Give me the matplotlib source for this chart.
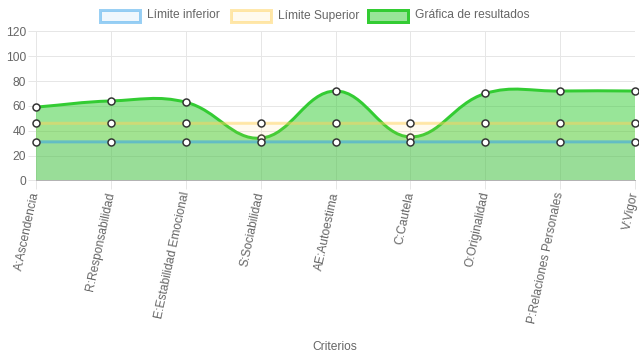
import numpy as np
import matplotlib
matplotlib.use('Agg')
import matplotlib.pyplot as plt
from matplotlib.path import Path
from matplotlib.patches import PathPatch, Rectangle

plt.rcParams['font.family'] = ['Liberation Sans', 'DejaVu Sans']

categories = ['A:Ascendencia', 'R:Responsabilidad', 'E:Estabilidad Emocional',
              'S:Sociabilidad', 'AE:Autoestima', 'C:Cautela', 'O:Originalidad',
              'P:Relaciones Personales', 'V:Vigor']
lower_limit = [31, 31, 31, 31, 31, 31, 31, 31, 31]
upper_limit = [46, 46, 46, 46, 46, 46, 46, 46, 46]
results = [59, 64, 63, 34, 72, 35, 70, 72, 72]
y_ticks = [0, 20, 40, 60, 80, 100, 120]
legend_labels = ['Límite inferior', 'Límite Superior', 'Gráfica de resultados']
x_title = 'Criterios'

W, H = 639, 360
fig = plt.figure(figsize=(W / 100, H / 100), dpi=100)
ax = fig.add_axes([36 / W, (H - 180.3) / H, (635 - 36) / W, (180.3 - 31.5) / H])
ax.set_xlim(0, len(categories) - 1)
ax.set_ylim(0, 120)

TXT = '#666666'
GRID = '#e6e6e6'
PX = 0.72  # points per pixel


def spline(vals, tension=0.4):
    xs = np.arange(len(vals))
    pts = ax.transData.transform(np.column_stack([xs, vals]).astype(float))
    n = len(pts)
    cpp, cpn = [], []
    for i in range(n):
        prev = pts[max(i - 1, 0)]
        cur = pts[i]
        nxt = pts[min(i + 1, n - 1)]
        d01 = np.hypot(*(cur - prev))
        d12 = np.hypot(*(nxt - cur))
        tot = d01 + d12
        s01 = d01 / tot if tot else 0
        s12 = d12 / tot if tot else 0
        cpp.append(cur - tension * s01 * (nxt - prev))
        cpn.append(cur + tension * s12 * (nxt - prev))
    verts = [pts[0]]
    codes = [Path.MOVETO]
    for i in range(n - 1):
        verts += [cpn[i], cpp[i + 1], pts[i + 1]]
        codes += [Path.CURVE4] * 3
    verts = ax.transData.inverted().transform(np.array(verts))
    return verts, codes


def draw_series(vals, line_rgb, fill_alpha, line_alpha, z):
    verts, codes = spline(vals)
    n = len(vals)
    fverts = list(verts) + [(n - 1, 0), (0, 0), (0, 0)]
    fcodes = list(codes) + [Path.LINETO, Path.LINETO, Path.CLOSEPOLY]
    ax.add_patch(PathPatch(Path(fverts, fcodes), facecolor=line_rgb + (fill_alpha,),
                           edgecolor='none', zorder=z))
    ax.add_patch(PathPatch(Path(verts, codes), facecolor='none',
                           edgecolor=line_rgb + (line_alpha,), linewidth=3 * PX,
                           zorder=z + 0.1, capstyle='round', joinstyle='round'))
    ax.plot(np.arange(n), vals, linestyle='none', marker='o', markersize=7 * PX,
            markerfacecolor='white', markeredgecolor='#333333',
            markeredgewidth=1.5 * PX, zorder=z + 0.2, clip_on=False)


GREEN = (51 / 255, 204 / 255, 51 / 255)
BLUE = (54 / 255, 162 / 255, 235 / 255)
YELLOW = (255 / 255, 210 / 255, 90 / 255)

draw_series(results, GREEN, 0.5, 1.0, 2)
draw_series(upper_limit, YELLOW, 0.1, 0.5, 3)
draw_series(lower_limit, BLUE, 0.08, 0.55, 4)

# axes styling
ax.set_yticks(y_ticks)
ax.set_xticks(np.arange(len(categories)))
ax.set_xticklabels(categories, rotation=78, ha='right', va='center',
                   rotation_mode='anchor')
ax.tick_params(axis='y', length=8 * PX, width=1 * PX, color=GRID, pad=2 * PX,
               labelsize=12 * PX, labelcolor=TXT)
ax.tick_params(axis='x', length=9 * PX, width=1 * PX, color=GRID, pad=3 * PX,
               labelsize=12 * PX, labelcolor=TXT)
ax.grid(True, color=GRID, linewidth=1 * PX, zorder=0, alpha=1)
ax.set_axisbelow(True)
for s in ['top', 'right', 'left']:
    ax.spines[s].set_visible(False)
ax.spines['bottom'].set_color('#b3b3b3')
ax.spines['bottom'].set_linewidth(1 * PX)
ax.spines['bottom'].set_zorder(10)
ax.set_facecolor('none')

fig.text(335 / W, 1 - 347 / H, x_title, ha='center', va='center',
         fontsize=12 * PX, color=TXT)

# legend
legend_boxes = [100, 231, 368]
legend_styles = [(BLUE, 0.08, 0.5), (YELLOW, 0.1, 0.5), (GREEN, 0.5, 1.0)]
for x0, lab, (rgb, fa, la) in zip(legend_boxes, legend_labels, legend_styles):
    fig.patches.append(Rectangle((x0 / W, 1 - 22 / H), 40 / W, 12 / H,
                                 transform=fig.transFigure,
                                 facecolor=rgb + (fa,), edgecolor=rgb + (la,),
                                 linewidth=3 * PX))
    fig.text((x0 + 47) / W, 1 - 15.5 / H, lab, ha='left', va='center',
             fontsize=12 * PX, color=TXT)

fig.savefig('out.png', dpi=100)
